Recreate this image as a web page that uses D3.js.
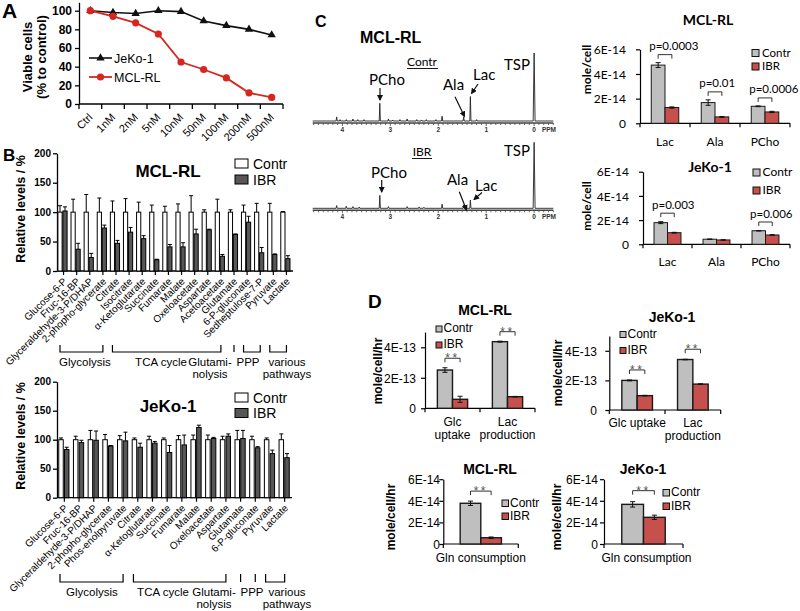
<!DOCTYPE html>
<html><head><meta charset="utf-8">
<script src="https://cdn.jsdelivr.net/npm/d3@7"></script>
<style>body{margin:0;background:#fff}svg{display:block}</style>
</head><body>
<svg id="fig" width="800" height="611"></svg>
<script>
// ================= DATA =================
// Panel A – viability
const doseLabels = ["Ctrl","1nM","2nM","5nM","10nM","50nM","100nM","200nM","500nM"];
const viabilityJeKo = [100,98,97,100,99,89,84,80,74];
const viabilityMCL  = [100,94,87,75,45,37,28,12,7];
const aYTicks = [0,20,40,60,80,100];

// Panel B – MCL-RL metabolites (relative levels %)
const bMclMetabolites = ["Glucose-6-P","Fruc-16-BP","Glyceraldehyde-3-P/DHAP","2-phopho-glycerate","Citrate","Isocitrate","α-Ketoglutarate","Succinate","Fumarate","Malate","Oxeloacetate","Aspartate","Acetoacetate","Glutamate","6-P-gluconate","Sedheptulose-7-P","Pyruvate","Lactate"];
const bMclContr   = [100,100,100,100,100,100,100,100,100,100,100,100,100,100,100,100,100,100];
const bMclContrSD = [11,22,30,24,19,23,17,12,10,14,28,4,22,4,12,15,15,1];
const bMclIBR     = [102,37,23,73,47,66,55,19,41,41,63,70,25,62,83,31,28,21];
const bMclIBRSD   = [7,10,7,5,5,8,5,1,4,7,8,1,3,1,10,9,1,5];
const bMclGroups  = [[["Glycolysis"],0,3],[["TCA cycle"],4,12],[["Glutami-","nolysis"],13,13],[["PPP"],14,15],[["various","pathways"],16,17]];

// Panel B – JeKo-1 metabolites
const bJekoMetabolites = ["Glucose-6-P","Fruc-16-BP","Glyceraldehyde-3-P/DHAP","2-phopho-glycerate","Phos-enolpyruvate","Citrate","α-Ketoglutarate","Succinate","Fumarate","Malate","Oxeloacetate","Aspartate","Glutamate","6-P-gluconate","Pyruvate","Lactate"];
const bJekoContr   = [100,100,100,100,100,100,100,100,100,100,100,100,100,100,100,100];
const bJekoContrSD = [3,6,16,9,7,3,6,3,7,8,8,6,16,6,3,10];
const bJekoIBR     = [83,95,99,89,98,87,94,78,91,121,102,106,102,86,76,69];
const bJekoIBRSD   = [4,4,16,1,15,7,3,12,17,4,2,4,14,2,6,7];
const bJekoGroups  = [[["Glycolysis"],0,4],[["TCA cycle"],5,11],[["Glutami-","nolysis"],12,12],[["PPP"],13,13],[["various","pathways"],14,15]];
const bYTicks = [0,50,100,150,200];
const seriesNames = ["Contr","IBR"];

// Panel C – NMR spectra peaks [ppm, relative intensity]
const ppmTicks = [4,3,2,1,0];
const spectrumContrPeaks = [[4.12,6],[4.05,2],[3.92,2],[3.78,3],[3.68,2],[3.55,2],[3.22,26],[3.04,3],[2.95,1.5],[2.8,2],[2.65,3],[2.45,2],[2.35,1.5],[2.25,2],[2.05,2],[1.92,7],[1.47,6],[1.33,36],[1.2,2],[0,100]];
const spectrumIBRPeaks   = [[4.12,4],[3.92,3],[3.78,2.5],[3.65,2],[3.22,19],[3.04,2.5],[2.65,2.5],[2.4,2],[2.3,1.5],[1.92,6],[1.47,5],[1.33,12],[0,97]];

// Panel C – metabolite concentrations (×1E-14 mole/cell)
const cMetabolites = ["Lac","Ala","PCho"];
const cMclContr = [4.72,1.68,1.38], cMclContrSD = [0.2,0.22,0.03];
const cMclIBR   = [1.28,0.52,0.92], cMclIBRSD   = [0.05,0.03,0.05];
const cMclP = ["p=0.0003","p=0.01","p=0.0006"];
const cJekoContr = [1.79,0.42,1.12], cJekoContrSD = [0.08,0.02,0.02];
const cJekoIBR   = [0.96,0.36,0.77], cJekoIBRSD   = [0.03,0.02,0.02];
const cJekoP = ["p=0.003",null,"p=0.006"];
const e14Ticks = [0,2,4,6];
const e14TickLabels = ["0","2E-14","4E-14","6E-14"];

// Panel D – uptake / production (×1E-13 mole/cell/hr)
const dMclCats = [["Glc","uptake"],["Lac","production"]];
const dJekoCats = [["Glc uptake"],["Lac","production"]];
const dMclContr = [2.51,4.37], dMclContrSD = [0.15,0.03];
const dMclIBR   = [0.59,0.76], dMclIBRSD   = [0.2,0.02];
const dJekoContr = [2.0,3.41], dJekoContrSD = [0.03,0.02];
const dJekoIBR   = [0.97,1.75], dJekoIBRSD   = [0.02,0.02];
const e13Ticks = [0,2,4];
const e13TickLabels = ["0","2E-13","4E-13"];
// Gln consumption (×1E-14 mole/cell/hr)
const dGlnCats = [["Gln consumption"]];
const dGlnMclContr = [3.77], dGlnMclContrSD = [0.2];
const dGlnMclIBR   = [0.58], dGlnMclIBRSD   = [0.07];
const dGlnJekoContr = [3.67], dGlnJekoContrSD = [0.25];
const dGlnJekoIBR   = [2.47], dGlnJekoIBRSD   = [0.2];

// ================= DRAWING =================
const svg = d3.select("#fig");
svg.append("rect").attr("width",800).attr("height",611).attr("fill","#fff");
const AR = "'Liberation Sans', Arial, sans-serif";
const CA = "Lato, 'Open Sans', sans-serif";
const RED = "#d7261e";
const CONTR_FILL = "#bfbfbf", IBR_FILL = "#c6504c";

svg.append("defs").append("marker").attr("id","arr").attr("markerUnits","userSpaceOnUse")
  .attr("markerWidth",6).attr("markerHeight",6).attr("refX",5).attr("refY",3).attr("orient","auto")
  .append("path").attr("d","M0,0L6,3L0,6Z").attr("fill","#111");

function txt(g, x, y, s, o = {}) {
  const t = g.append("text").attr("x", x).attr("y", y).text(s)
    .attr("font-family", o.f || AR).attr("font-size", o.s || 12)
    .attr("font-weight", o.w || "normal").attr("text-anchor", o.a || "start")
    .attr("fill", o.c || "#000");
  if (o.r) t.attr("transform", `rotate(${o.r},${x},${y})`);
  if (o.dy) t.attr("dy", o.dy);
  if (o.ls) t.attr("letter-spacing", o.ls);
  return t;
}
function line(g, x1, y1, x2, y2, w = 1, c = "#000") {
  return g.append("line").attr("x1",x1).attr("y1",y1).attr("x2",x2).attr("y2",y2).attr("stroke",c).attr("stroke-width",w);
}

// ---------- Panel A ----------
(function(){
  const g = svg.append("g");
  txt(g, 2, 18, "A", {s:21, w:"bold"});
  const x = d3.scaleBand().domain(doseLabels).range([79,283]);
  const y = d3.scaleLinear().domain([0,109]).range([104,2.3]);
  const ya = g.append("g").attr("transform","translate(79,0)")
    .call(d3.axisLeft(y).tickValues(aYTicks).tickSize(4).tickSizeOuter(0).tickPadding(3));
  ya.selectAll("text").attr("font-family",AR).attr("font-size",12).attr("font-weight","bold").attr("fill","#000");
  ya.selectAll("path,line").attr("stroke","#000").attr("stroke-width",1.3);
  line(g, 79, 104, 283, 104, 1.3);
  d3.range(doseLabels.length+1).forEach(i => line(g, 79 + i*x.bandwidth(), 104, 79 + i*x.bandwidth(), 109, 1.3));
  doseLabels.forEach(d => {
    const cx = x(d) + x.bandwidth()/2 + 3;
    g.append("text").text(d).attr("transform",`translate(${cx},118) rotate(-45)`)
      .attr("text-anchor","end").attr("font-family",AR).attr("font-size",11);
  });
  txt(g, 27, 57, "Viable cells", {s:13, w:"bold", a:"middle", r:-90, dy:"0.35em"});
  txt(g, 41, 57, "(% to control)", {s:13, w:"bold", a:"middle", r:-90, dy:"0.35em"});
  const ln = d3.line().x((d,i)=>x(doseLabels[i])+x.bandwidth()/2).y(d=>y(d));
  g.append("path").attr("d",ln(viabilityJeKo)).attr("fill","none").attr("stroke","#111").attr("stroke-width",1.6);
  g.append("path").attr("d",ln(viabilityMCL)).attr("fill","none").attr("stroke",RED).attr("stroke-width",1.8);
  const tri = d3.symbol().type(d3.symbolTriangle).size(30);
  viabilityJeKo.forEach((v,i)=> g.append("path").attr("d",tri()).attr("fill","#111")
    .attr("transform",`translate(${x(doseLabels[i])+x.bandwidth()/2},${y(v)})`));
  viabilityMCL.forEach((v,i)=> g.append("circle").attr("cx",x(doseLabels[i])+x.bandwidth()/2).attr("cy",y(v)).attr("r",3.6).attr("fill",RED));
  // legend
  line(g, 89, 58, 112, 58, 1.6, "#111");
  g.append("path").attr("d",tri()).attr("fill","#111").attr("transform","translate(100.5,58)");
  txt(g, 114, 62.5, "JeKo-1", {s:12.5});
  line(g, 89, 77, 112, 77, 1.8, RED);
  g.append("circle").attr("cx",100.5).attr("cy",77).attr("r",3.6).attr("fill",RED);
  txt(g, 114, 81.5, "MCL-RL", {s:12.5});
})();

// ---------- Panel B ----------
function drawB(cfg) {
  const g = svg.append("g");
  const n = cfg.cats.length;
  const x = d3.scaleBand().domain(d3.range(n)).range([cfg.x0, cfg.x1]);
  const bw = x.bandwidth();
  const y = d3.scaleLinear().domain([0,200]).range([cfg.y0, cfg.y200]);
  const ya = g.append("g").attr("transform",`translate(${cfg.x0},0)`)
    .call(d3.axisLeft(y).tickValues(bYTicks).tickSize(4).tickSizeOuter(0).tickPadding(2));
  ya.selectAll("text").attr("font-family",AR).attr("font-size",10).attr("font-weight","bold").attr("fill","#000");
  ya.selectAll("path,line").attr("stroke","#000").attr("stroke-width",1.3);
  line(g, cfg.x0, cfg.y0, cfg.x1, cfg.y0, 1.3);
  cfg.cats.forEach((c,i) => {
    const cx = x(i) + bw/2;
    line(g, cx, cfg.y0, cx, cfg.y0+4, 1.2);
    g.append("text").text(c).attr("transform",`translate(${cx+4},${cfg.y0+11}) rotate(-45)`)
      .attr("text-anchor","end").attr("font-family",AR).attr("font-size",10).attr("fill","#000");
  });
  const series = [[cfg.contr,cfg.contrSD,"#fff",cfg.cOff],[cfg.ibr,cfg.ibrSD,"#575757",cfg.iOff]];
  series.forEach(([vals,sds,fill,off]) => {
    vals.forEach((v,i) => {
      const bx = x(i) + off;
      g.append("rect").attr("x",bx).attr("y",y(v)).attr("width",cfg.barW).attr("height",cfg.y0-y(v))
        .attr("fill",fill).attr("stroke","#000").attr("stroke-width",1);
      const cx = bx + cfg.barW/2;
      line(g, cx, y(v), cx, y(v+sds[i]), 1);
      line(g, cx-2, y(v+sds[i]), cx+2, y(v+sds[i]), 1);
    });
  });
  cfg.groups.forEach(([name,i0,i1],k) => {
    const xb = x(i1) + bw/2;
    if (i0 === i1) line(g, xb, cfg.brTop, xb, cfg.brBot, 1.2);
    else {
      const xa = x(i0) + 3;
      g.append("path").attr("d",`M${xa},${cfg.brTop}V${cfg.brBot}H${xb}V${cfg.brTop}`)
        .attr("fill","none").attr("stroke","#000").attr("stroke-width",1.2);
    }
    name.forEach((l,j) => txt(g, cfg.groupLabelX[k], cfg.labelY + j*12, l, {s:11.5, a:"middle"}));
  });
  txt(g, cfg.titleX, cfg.titleY, cfg.title, {s:17, w:"bold", a:"middle"});
  seriesNames.forEach((s,k) => {
    g.append("rect").attr("x",235).attr("y",cfg.legY + k*cfg.legDy).attr("width",13).attr("height",9)
      .attr("fill", k ? "#575757" : "#fff").attr("stroke","#000").attr("stroke-width",1);
    txt(g, 253, cfg.legY + k*cfg.legDy + 9.5, s, {s:14});
  });
  txt(g, 21, cfg.ylabY, "Relative levels / %", {s:12.5, w:"bold", a:"middle", r:-90, dy:"0.35em"});
  if (cfg.letter) txt(g, 3, 161, cfg.letter, {s:17, w:"bold"});
}
drawB({letter:"B", cats:bMclMetabolites, contr:bMclContr, contrSD:bMclContrSD, ibr:bMclIBR, ibrSD:bMclIBRSD,
  groups:bMclGroups, x0:57, x1:293, y0:271, y200:153.3, barW:4.2, cOff:0.9, iOff:5.9,
  brTop:345, brBot:352, labelY:366, groupLabelX:[85,161,210,248,287],
  title:"MCL-RL", titleX:168, titleY:177, legY:159, legDy:16, ylabY:209});
drawB({cats:bJekoMetabolites, contr:bJekoContr, contrSD:bJekoContrSD, ibr:bJekoIBR, ibrSD:bJekoIBRSD,
  groups:bJekoGroups, x0:57, x1:292, y0:497.7, y200:381.7, barW:4.5, cOff:1.75, iOff:7.45,
  brTop:574, brBot:582, labelY:596, groupLabelX:[92,163,214,252,287],
  title:"JeKo-1", titleX:168, titleY:412, legY:393, legDy:15.5, ylabY:436});

// ---------- Panel C spectra ----------
txt(svg, 315, 27, "C", {s:16, w:"bold"});
txt(svg, 360, 43, "MCL-RL", {s:16, w:"bold"});
const ppm = d3.scaleLinear().domain([4.62,-0.4]).range([312.7,553.3]);
const inten = d3.scaleLinear().domain([0,100]).range([0,68]);
function drawSpectrum(peaks, baseY, axisY) {
  const g = svg.append("g");
  const pts = [[4.62,0]];
  peaks.slice().sort((a,b)=>b[0]-a[0]).forEach(([p,h]) => {
    const w = h > 50 ? 0.02 : 0.012;
    pts.push([p+w,0],[p,h],[p-w,0]);
  });
  pts.push([-0.4,0]);
  const ln = d3.line().x(d=>ppm(d[0])).y(d=>baseY - inten(d[1]));
  g.append("path").attr("d",ln(pts)).attr("fill","none").attr("stroke","#222").attr("stroke-width",0.9);
  line(g, ppm(4.62), axisY, ppm(-0.4), axisY, 1.5, "#444");
  d3.range(-4, 47).forEach(i => {
    const major = i % 10 === 0;
    line(g, ppm(i/10), axisY, ppm(i/10), axisY + (major ? 3 : 2), 0.8, "#444");
  });
  ppmTicks.forEach(t => txt(g, ppm(t), axisY+8.5, String(t), {s:6.5, a:"middle", f:AR, w:"bold", c:"#333"}));
  txt(g, 549, axisY+8.5, "PPM", {s:6.5, a:"middle", f:AR, w:"bold", c:"#333"});
  return g;
}
const sp1 = drawSpectrum(spectrumContrPeaks, 121, 123);
const sp2 = drawSpectrum(spectrumIBRPeaks, 208.3, 210.3);
function arrow(g, x1, y1, x2, y2) {
  g.append("line").attr("x1",x1).attr("y1",y1).attr("x2",x2).attr("y2",y2)
    .attr("stroke","#111").attr("stroke-width",1.2).attr("marker-end","url(#arr)");
}
txt(sp1, 422, 66, "Contr", {f:CA, s:12, a:"middle"});
line(sp1, 407, 68.5, 438, 68.5, 0.9);
txt(sp1, 504, 70, "TSP", {f:CA, s:15});
txt(sp1, 369, 85, "PCho", {f:CA, s:15});
txt(sp1, 443, 90, "Ala", {f:CA, s:15});
txt(sp1, 473, 80, "Lac", {f:CA, s:15});
arrow(sp1, 380, 88, 380, 100);
arrow(sp1, 455, 96.7, 464.5, 116.5);
arrow(sp1, 478, 84, 471.5, 93.5);
txt(sp2, 422, 156, "IBR", {f:CA, s:12, a:"middle"});
line(sp2, 412, 158.5, 432, 158.5, 0.9);
txt(sp2, 504, 156, "TSP", {f:CA, s:15});
txt(sp2, 371, 178, "PCho", {f:CA, s:15});
txt(sp2, 447, 185, "Ala", {f:CA, s:15});
txt(sp2, 475, 191, "Lac", {f:CA, s:15});
arrow(sp2, 381.7, 180, 381.7, 192);
arrow(sp2, 459.3, 191.7, 466.5, 210);
arrow(sp2, 482, 192.5, 474, 199.5);

// ---------- Excel-style grouped bar charts (C right, D) ----------
function excelChart(cfg) {
  const g = svg.append("g");
  const F = cfg.font, n = cfg.cats.length;
  const x = d3.scaleBand().domain(d3.range(n)).range([cfg.x0, cfg.x1]);
  const bw = x.bandwidth();
  const y = d3.scaleLinear().domain([0,cfg.axisMax]).range([cfg.y0, cfg.y0 - cfg.axisMax*cfg.perUnit]);
  const inner = d3.scaleBand().domain([0,1]).range([bw*0.225, bw*0.775]);
  const ya = g.append("g").attr("transform",`translate(${cfg.x0},0)`)
    .call(d3.axisLeft(y).tickValues(cfg.ticks).tickFormat((d,i)=>cfg.tickLabels[i])
      .tickSize(4).tickSizeOuter(0).tickPadding(cfg.x0 - cfg.labelRight - 4));
  ya.selectAll("text").attr("font-family",F).attr("font-size",cfg.fs).attr("fill","#000").attr("dy","0.35em");
  ya.selectAll("path,line").attr("stroke","#000").attr("stroke-width",1.2);
  line(g, cfg.x0, cfg.y0, cfg.x1, cfg.y0, 1.2);
  d3.range(n+1).forEach(i => line(g, cfg.x0 + i*bw, cfg.y0, cfg.x0 + i*bw, cfg.y0+4, 1.2));
  const series = [[cfg.contr,cfg.contrSD,CONTR_FILL],[cfg.ibr,cfg.ibrSD,IBR_FILL]];
  series.forEach(([vals,sds,fill],k) => vals.forEach((v,i) => {
    const bx = x(i) + inner(k), w = inner.bandwidth();
    g.append("rect").attr("x",bx).attr("y",y(v)).attr("width",w).attr("height",cfg.y0-y(v))
      .attr("fill",fill).attr("stroke","#1a1a1a").attr("stroke-width",cfg.bs);
    const cx = bx + w/2, lo = y(v - sds[i]), hi = y(v + sds[i]);
    line(g, cx, lo, cx, hi, 1, "#111");
    line(g, cx-2.5, lo, cx+2.5, lo, 1, "#111");
    line(g, cx-2.5, hi, cx+2.5, hi, 1, "#111");
  }));
  cfg.sig.forEach((s,i) => {
    if (!s) return;
    const top = Math.max(cfg.contr[i]+cfg.contrSD[i], cfg.ibr[i]+cfg.ibrSD[i]);
    const by = y(top) - cfg.sigGap;
    const xa = x(i) + inner(0) + inner.bandwidth()/2, xb = x(i) + inner(1) + inner.bandwidth()/2;
    g.append("path").attr("d",`M${xa},${by+4}V${by}H${xb}V${by+4}`).attr("fill","none").attr("stroke","#333").attr("stroke-width",1);
    if (cfg.sigType === "p") txt(g, x(i)+inner(0)-2, by-4.5, s, {f:F, s:11.5});
    else txt(g, (xa+xb)/2, by+4, s, {f:AR, s:12, a:"middle", c:"#555", ls:2.5});
  });
  cfg.cats.forEach((lines,i) => lines.forEach((l,j) =>
    txt(g, x(i)+bw/2 + (cfg.catDx||0), cfg.catY + j*13, l, {f:F, s:cfg.fs, a:"middle"})));
  txt(g, cfg.titleX, cfg.titleY, cfg.title, {f:F, s:cfg.titleS, w:"bold", a:"middle"});
  seriesNames.forEach((s,k) => {
    const ly = cfg.leg.y + k*cfg.leg.dy;
    g.append("rect").attr("x",cfg.leg.x).attr("y",ly).attr("width",cfg.leg.b).attr("height",cfg.leg.b)
      .attr("fill", k ? IBR_FILL : CONTR_FILL).attr("stroke","#111").attr("stroke-width",1);
    txt(g, cfg.leg.x + cfg.leg.b + cfg.leg.gap, ly + cfg.leg.b, s, {f:F, s:cfg.leg.fs || cfg.fs});
  });
  txt(g, cfg.ylab.x, cfg.ylab.y, cfg.ylab.t, {f:F, s:cfg.ylab.s, w:"bold", a:"middle", r:-90, dy:"0.35em"});
}
// C right: MCL-RL
excelChart({font:CA, fs:12, x0:640, x1:790, y0:123.3, perUnit:12.33, axisMax:6, ticks:e14Ticks, tickLabels:e14TickLabels,
  labelRight:626, cats:cMetabolites.map(c=>[c]), catY:146, contr:cMclContr, contrSD:cMclContrSD, ibr:cMclIBR, ibrSD:cMclIBRSD,
  sig:cMclP, sigType:"p", sigGap:8, bs:1, title:"MCL-RL", titleX:708, titleY:25, titleS:14,
  leg:{x:752, y:49.5, b:7, dy:13.5, gap:3, fs:11.5}, ylab:{x:587, y:69.5, t:"mole/cell", s:12}});
// C right: JeKo-1
excelChart({font:CA, fs:12, x0:643, x1:790, y0:244.3, perUnit:12.1, axisMax:6, ticks:e14Ticks, tickLabels:e14TickLabels,
  labelRight:629, cats:cMetabolites.map(c=>[c]), catY:266, contr:cJekoContr, contrSD:cJekoContrSD, ibr:cJekoIBR, ibrSD:cJekoIBRSD,
  sig:cJekoP, sigType:"p", sigGap:8.5, bs:1, title:"JeKo-1", titleX:710, titleY:172, titleS:14,
  leg:{x:753, y:169, b:7, dy:18, gap:2.5}, ylab:{x:587, y:206, t:"mole/cell", s:12}});

txt(svg, 368, 308, "D", {s:19, w:"bold"});
excelChart({font:AR, fs:12, x0:425, x1:535, y0:408.3, perUnit:15.25, axisMax:5, ticks:e13Ticks, tickLabels:e13TickLabels,
  labelRight:416, cats:dMclCats, catY:426, contr:dMclContr, contrSD:dMclContrSD, ibr:dMclIBR, ibrSD:dMclIBRSD,
  sig:["**","**"], sigType:"star", sigGap:9.5, bs:1.4, title:"MCL-RL", titleX:485, titleY:315, titleS:14,
  leg:{x:436, y:326, b:6, dy:16, gap:1.5}, ylab:{x:378, y:371, t:"mole/cell/hr", s:12}});
excelChart({font:AR, fs:12, x0:609.3, x1:720.7, y0:410, perUnit:14.8, axisMax:5, ticks:e13Ticks, tickLabels:e13TickLabels,
  labelRight:597, cats:dJekoCats, catY:426.7, contr:dJekoContr, contrSD:dJekoContrSD, ibr:dJekoIBR, ibrSD:dJekoIBRSD,
  sig:["**","**"], sigType:"star", sigGap:10, bs:1.4, title:"JeKo-1", titleX:672, titleY:321.7, titleS:14,
  leg:{x:620, y:331.5, b:6, dy:16, gap:1.5}, ylab:{x:558, y:373, t:"mole/cell/hr", s:12}});
excelChart({font:AR, fs:12, x0:443.3, x1:518.3, y0:544, perUnit:10.8, axisMax:6, ticks:e14Ticks, tickLabels:e14TickLabels,
  labelRight:440, cats:dGlnCats, catY:561.7, contr:dGlnMclContr, contrSD:dGlnMclContrSD, ibr:dGlnMclIBR, ibrSD:dGlnMclIBRSD,
  sig:["**"], sigType:"star", sigGap:10, bs:1.4, title:"MCL-RL", titleX:490, titleY:474, titleS:14,
  leg:{x:502, y:500, b:6.5, dy:13, gap:1.5}, ylab:{x:391, y:517, t:"mole/cell/hr", s:12}});
excelChart({font:AR, fs:12, x0:604, x1:683, y0:544, perUnit:10.8, axisMax:6, ticks:e14Ticks, tickLabels:e14TickLabels,
  labelRight:598, cats:dGlnCats, catY:561.7, catDx:3, contr:dGlnJekoContr, contrSD:dGlnJekoContrSD, ibr:dGlnJekoIBR, ibrSD:dGlnJekoIBRSD,
  sig:["**"], sigType:"star", sigGap:11, bs:1.4, title:"JeKo-1", titleX:643, titleY:474, titleS:14,
  leg:{x:663, y:489.5, b:6.5, dy:13.5, gap:1.5}, ylab:{x:557, y:517, t:"mole/cell/hr", s:12}});
</script>
</body></html>
